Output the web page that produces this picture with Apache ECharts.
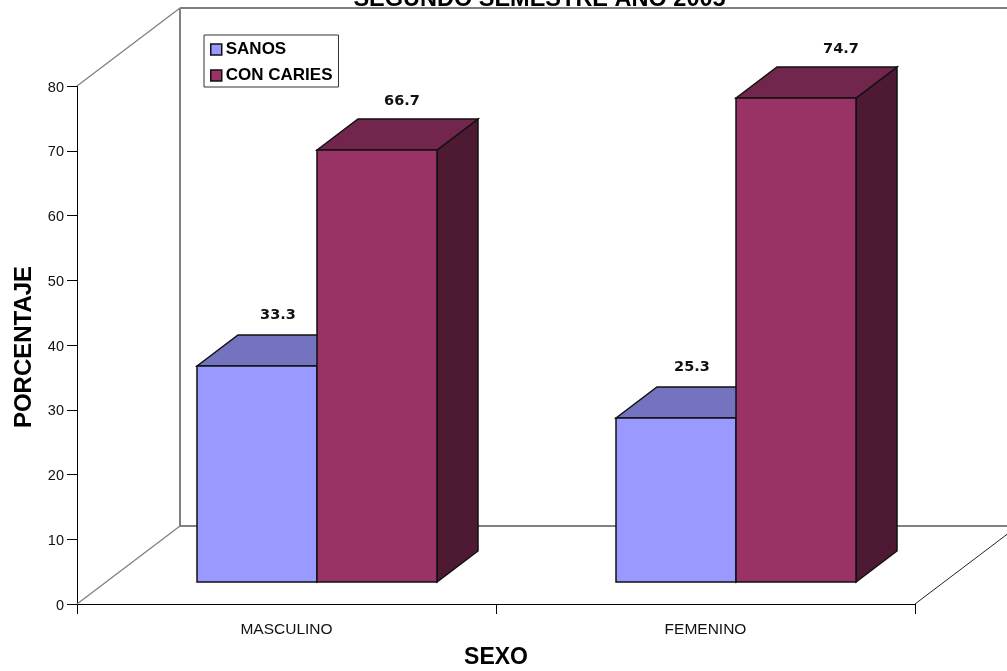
<!DOCTYPE html>
<html>
<head>
<meta charset="utf-8">
<style>html,body{margin:0;padding:0;background:#fff;overflow:hidden}#chart{width:1007px;height:671px}</style>
<script src="https://cdn.jsdelivr.net/npm/echarts@6/dist/echarts.min.js"></script>
</head>
<body>
<div id="chart"></div>
<script>
// Values
const sexes = ['MASCULINO', 'FEMENINO'];
const sanos = [33.3, 25.3];
const conCaries = [66.7, 74.7];

// Oblique projection of the 3D box, in pixels
const WALL = { dx: 103, dy: -78 };   // front plane to back wall
const SEAT = { dx: 30, dy: -22 };    // front plane to front of the bars
const DEPTH = { dx: 41, dy: -31 };   // bar depth
const BAR_RATIO = 120 / 419;         // bar width over category band

// Hand-placed value labels, shift from the front top centre of each bar
const LABEL_SHIFT = {
  sanos: [[21, -51], [16, -51]],
  caries: [[25, -49], [45, -49]]
};

const FONT = '"Liberation Sans", Arial, sans-serif';
const EDGE = { stroke: '#111', lineWidth: 1.5, lineJoin: 'miter' };

function poly(points, fill) {
  return { type: 'polygon', shape: { points }, style: Object.assign({ fill }, EDGE) };
}

function barRenderer(slot, colors, shifts) {
  return function (params, api) {
    const i = api.value(0), v = api.value(1);
    const band = api.size([1, 0])[0];
    const w = band * BAR_RATIO;
    const origin = api.coord([i, 0]);
    const cx = origin[0] + SEAT.dx;
    const x0 = Math.round(cx + slot * w);
    const x1 = Math.round(cx + (slot + 1) * w);
    const yb = Math.round(origin[1] + SEAT.dy);
    const yt = Math.round(api.coord([i, v])[1] + SEAT.dy);
    const d = DEPTH;
    const [sx, sy] = shifts[i];
    return {
      type: 'group',
      children: [
        poly([[x1, yt], [x1 + d.dx, yt + d.dy], [x1 + d.dx, yb + d.dy], [x1, yb]], colors.side),
        poly([[x0, yt], [x0 + d.dx, yt + d.dy], [x1 + d.dx, yt + d.dy], [x1, yt]], colors.top),
        poly([[x0, yt], [x1, yt], [x1, yb], [x0, yb]], colors.front),
        {
          type: 'text',
          z2: 50,
          style: {
            x: (x0 + x1) / 2 + sx, y: yt + sy,
            text: v.toFixed(1),
            align: 'center', verticalAlign: 'middle',
            fill: '#111',
            font: 'bold 14.5px "DejaVu Sans", sans-serif'
          }
        }
      ]
    };
  };
}

// Back wall and floor edges, anchored on the axis extents
function wallRenderer(params, api) {
  const W = api.getWidth();
  const band = api.size([1, 0])[0];
  const first = api.coord([0, 0]), last = api.coord([sexes.length - 1, 0]), ceil = api.coord([0, 80]);
  const a = [first[0] - band / 2, first[1]];
  const b = [last[0] + band / 2, last[1]];
  const c = [a[0], ceil[1]];
  const bl = [a[0] + WALL.dx, a[1] + WALL.dy];
  const tl = [c[0] + WALL.dx, c[1] + WALL.dy];
  const br = [b[0] + WALL.dx, b[1] + WALL.dy];
  const gray = { stroke: '#808080', lineWidth: 2, fill: null };
  const seg = (p, q, style) => ({ type: 'line', shape: { x1: p[0], y1: p[1], x2: q[0], y2: q[1] }, style });
  return {
    type: 'group',
    children: [
      seg(tl, [W + 5, tl[1]], gray),
      seg(bl, [W + 5, bl[1]], gray),
      seg(tl, bl, gray),
      seg(c, tl, { stroke: '#808080', lineWidth: 1.3 }),
      seg(a, bl, { stroke: '#808080', lineWidth: 1.3 }),
      seg(b, br, { stroke: '#222', lineWidth: 1 })
    ]
  };
}

const chart = echarts.init(document.getElementById('chart'), null, { renderer: 'canvas' });
const purple = { front: '#993366', top: '#73264D', side: '#4D1933' };
const blue = { front: '#9999FF', top: '#7373BF', side: '#4D4D80' };

chart.setOption({
  animation: false,
  backgroundColor: '#fff',
  title: {
    text: 'SEGUNDO SEMESTRE AÑO 2005',
    left: 539.5, textAlign: 'center', top: -12,
    padding: 0,
    textStyle: { fontFamily: FONT, fontWeight: 'bold', fontSize: 23.5, color: '#000' }
  },
  legend: {
    left: 204, top: 35,
    orient: 'vertical',
    data: ['SANOS', 'CON CARIES'],
    itemWidth: 11, itemHeight: 11, itemGap: 9,
    padding: [6, 6, 3, 6],
    borderColor: '#333', borderWidth: 1,
    icon: 'rect',
    selectedMode: false,
    itemStyle: { borderColor: '#111', borderWidth: 1.5 },
    textStyle: { fontFamily: FONT, fontWeight: 'bold', fontSize: 17, color: '#000', padding: [0, 0, 0, -1] }
  },
  grid: { left: 77, right: 92, top: 86, bottom: 67, outerBoundsMode: 'none' },
  xAxis: {
    type: 'category', data: sexes,
    name: 'SEXO', nameLocation: 'middle', nameGap: 42,
    nameTextStyle: { fontFamily: FONT, fontWeight: 'bold', fontSize: 23, color: '#000' },
    axisLine: { lineStyle: { color: '#000', width: 1 } },
    axisTick: { show: true, length: 10, lineStyle: { color: '#000' } },
    axisLabel: { fontFamily: FONT, fontSize: 15.5, color: '#111', margin: 18 }
  },
  yAxis: {
    type: 'value', min: 0, max: 80, interval: 10,
    name: 'PORCENTAJE', nameLocation: 'middle', nameGap: 41, nameRotate: 90,
    nameTextStyle: { fontFamily: FONT, fontWeight: 'bold', fontSize: 24, color: '#000', padding: [0, 4, 0, 0] },
    axisLine: { show: true, lineStyle: { color: '#000', width: 1 } },
    axisTick: { show: true, length: 10, lineStyle: { color: '#000' } },
    axisLabel: {
      color: '#111', margin: 13,
      formatter: '{n|{value}}',
      rich: { n: { fontFamily: FONT, fontSize: 14.5, color: '#111', padding: [3, 0, 0, 0] } }
    },
    splitLine: { show: false }
  },
  series: [
    { type: 'custom', silent: true, z: 1, renderItem: wallRenderer, data: [[0, 0]], encode: { x: 0, y: 1 } },
    {
      type: 'custom', name: 'SANOS', z: 2,
      itemStyle: { color: blue.front },
      renderItem: barRenderer(-1, blue, LABEL_SHIFT.sanos),
      data: sanos.map((v, i) => [i, v]), encode: { x: 0, y: 1 }
    },
    {
      type: 'custom', name: 'CON CARIES', z: 3,
      itemStyle: { color: purple.front },
      renderItem: barRenderer(0, purple, LABEL_SHIFT.caries),
      data: conCaries.map((v, i) => [i, v]), encode: { x: 0, y: 1 }
    }
  ]
});
</script>
</body>
</html>
